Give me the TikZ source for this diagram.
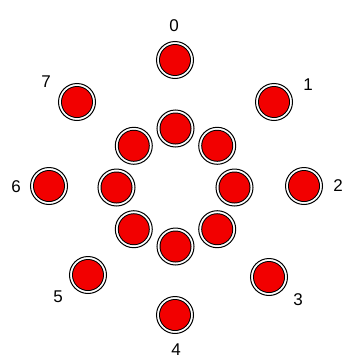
\documentclass[tikz,border=0pt]{standalone}
\usepackage{fontspec}
\setmainfont{Liberation Sans}
\usetikzlibrary{calc}
\begin{document}
\begin{tikzpicture}[x=1pt,y=-1pt,
  ball/.style={circle,draw=black,line width=1pt,fill=white,minimum size=37pt,inner sep=0pt,
    path picture={\fill[black] (path picture bounding box.center) circle (16pt);
                  \fill[red!95!black] (path picture bounding box.center) circle (15pt);}},
  lbl/.style={font=\fontsize{17}{17}\selectfont,inner sep=0pt}]
\useasboundingbox (0,0) rectangle (347,359);
\coordinate (c) at (175.5,187.5);
% outer ring
\node[ball] (o0) at (175,60) {};
\node[ball] (o1) at (274,102) {};
\node[ball] (o2) at (304,186) {};
\node[ball] (o3) at (269,277) {};
\node[ball] (o4) at (175,315) {};
\node[ball] (o5) at (88,275) {};
\node[ball] (o6) at (49,186) {};
\node[ball] (o7) at (77,102) {};
% inner ring
\foreach \i in {0,...,7}{
  \pgfmathsetmacro{\ang}{-90+45*\i}
  \node[ball] (n\i) at ($(c)+(\ang:59)$) {};
}
\node[lbl] (l0) at ($(o0)+(-1,-34)$) {0};
\node[lbl] (l1) at ($(o1)+(34,-17)$) {1};
\node[lbl] (l2) at ($(o2)+(34,0)$) {2};
\node[lbl] (l3) at ($(o3)+(29,23)$) {3};
\node[lbl] (l4) at ($(o4)+(1,35)$) {4};
\node[lbl] (l5) at ($(o5)+(-30,22)$) {5};
\node[lbl] (l6) at ($(o6)+(-33,1)$) {6};
\node[lbl] (l7) at ($(o7)+(-31,-20)$) {7};
\end{tikzpicture}
\end{document}
